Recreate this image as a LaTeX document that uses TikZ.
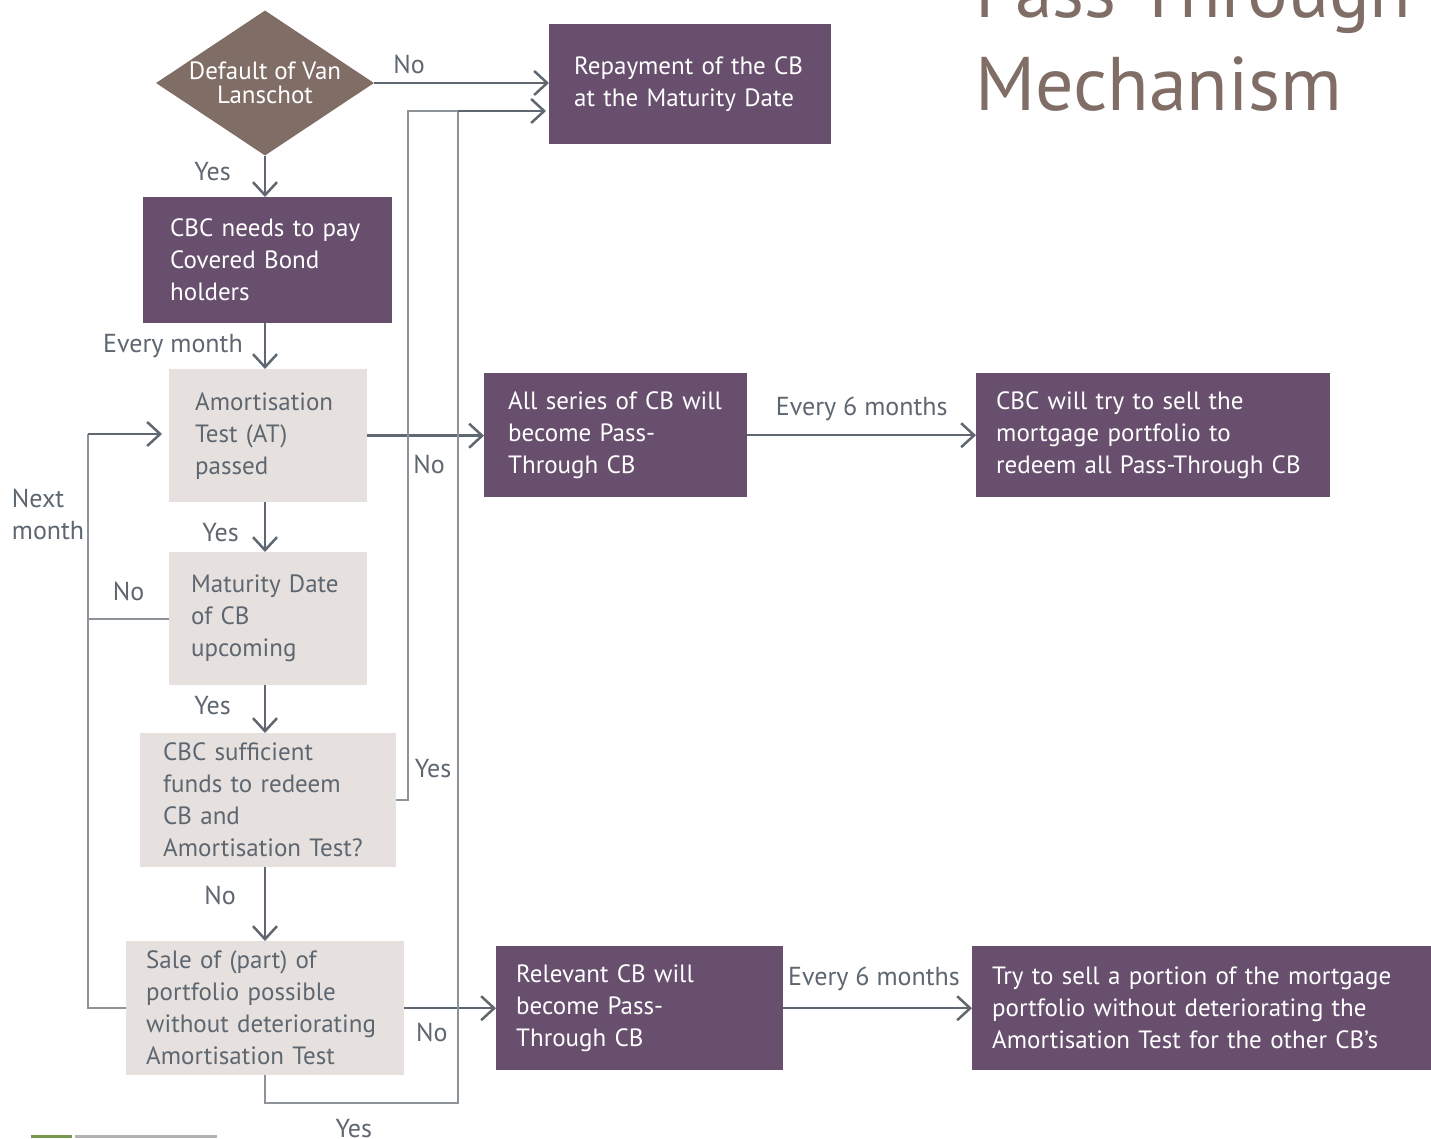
\documentclass[tikz,border=0pt]{standalone}
\usepackage{fontspec}
\setmainfont{PT Sans}
\usetikzlibrary{shapes.geometric,arrows.meta}
\hyphenpenalty=10000

\definecolor{vlpurple}{HTML}{684F6E}
\definecolor{vltaupe}{HTML}{7F6D66}
\definecolor{vlgrey}{HTML}{E6E1DE}
\definecolor{vltext}{HTML}{5E6670}
\definecolor{vlarrow}{HTML}{5F6870}
\definecolor{vlline}{HTML}{8E939A}
\definecolor{vlgreen}{HTML}{77994F}

\begin{document}
\begin{tikzpicture}[x=1pt, y=-1pt,
    every node/.style={font=\fontsize{25}{32}\selectfont},
    purplebox/.style={rectangle, fill=vlpurple, text=white, anchor=north west, align=left, inner ysep=0pt},
    greybox/.style={rectangle, fill=vlgrey, text=vltext, anchor=north west, align=left, inner ysep=0pt},
    decision/.style={diamond, fill=vltaupe, text=white, align=center, inner sep=0pt, aspect=1.5, font=\fontsize{25}{24}\selectfont},
    flow/.style={draw=vlarrow, line width=2.5pt, -{Straight Barb[length=13pt, width=24pt]}},
    link/.style={draw=vlline, line width=1.6pt},
    lbl/.style={text=vltext, inner sep=0pt, font=\fontsize{26}{32}\selectfont}]
  \useasboundingbox (0,0) rectangle (1431,1138);

  % title, cut at the top
  \node[anchor=base west, text=vltaupe, font=\fontsize{76}{90}\selectfont, inner sep=0pt] (ttl1) at (975,17) {Pass-Through};
  \node[anchor=base west, text=vltaupe, font=\fontsize{76}{90}\selectfont, inner sep=0pt] (ttl2) at (975,110) {Mechanism};

  % boxes
  \node[decision, minimum width=218pt, minimum height=145pt] (dflt) at (265,83) {Default of Van\\Lanschot};
  \node[purplebox, minimum height=120pt, inner xsep=25pt, text width=232pt] (rep) at (549,24) {Repayment of the CB\\at the Maturity Date};
  \node[purplebox, minimum height=126pt, inner xsep=27pt, text width=195pt] (pay) at (143,197) {CBC needs to pay\\Covered Bond\\holders};
  \node[greybox, minimum height=133pt, inner xsep=26pt, text width=146pt] (at) at (169,369) {Amortisation\\Test (AT)\\passed};
  \node[purplebox, minimum height=124pt, inner xsep=24pt, text width=215pt] (all) at (484,373) {All series of CB will\\become Pass-\\Through CB};
  \node[purplebox, minimum height=124pt, inner xsep=20pt, text width=314pt] (sell) at (976,373) {CBC will try to sell the\\mortgage portfolio to\\redeem all Pass-Through CB};
  \node[greybox, minimum height=133pt, inner xsep=22pt, text width=154pt] (mat) at (169,552) {Maturity Date\\of CB\\upcoming};
  \node[greybox, minimum height=134pt, inner xsep=23pt, text width=210pt] (suff) at (140,733) {CBC sufficient\\funds to redeem\\CB and\\Amortisation Test?};
  \node[greybox, minimum height=134pt, inner xsep=20pt, text width=238pt] (sale) at (126,941) {Sale of (part) of\\portfolio possible\\without deteriorating\\Amortisation Test};
  \node[purplebox, minimum height=124pt, inner xsep=20pt, text width=247pt] (rel) at (496,946) {Relevant CB will\\become Pass-\\Through CB};
  \node[purplebox, minimum height=124pt, inner xsep=20pt, text width=419pt] (try) at (972,946) {Try to sell a portion of the mortgage\\portfolio without deteriorating the\\Amortisation Test for the other CB's};

  % main column
  \draw[flow] (dflt.east) -- (dflt.east -| rep.west) node[lbl, pos=0.2, above=8pt] {No};
  \draw[flow] (dflt.south) -- (pay.north -| dflt) node[lbl, pos=0.39, left=33pt] {Yes};
  \draw[flow] (pay.south -| dflt) -- (at.north -| dflt) node[lbl, midway, left=21pt] {Every month};
  \draw[flow] (at.south -| dflt) -- (mat.north -| dflt) node[lbl, pos=0.6, left=25pt] {Yes};
  \draw[flow] (mat.south -| dflt) -- (suff.north -| dflt) node[lbl, pos=0.43, left=33pt] {Yes};
  \draw[flow] (suff.south -| dflt) -- (sale.north -| dflt) node[lbl, pos=0.38, left=28pt] {No};

  % to the right
  \draw[flow] (at.east) -- (at.east -| all.west) node[lbl, pos=0.53, below=18pt] {No};
  \draw[flow] (all.east) -- (sell.west) node[lbl, midway, above=13pt] {Every 6 months};
  \draw[flow] (sale.east) -- (sale.east -| rel.west) node[lbl, pos=0.3, below=14pt] {No};
  \draw[flow] (rel.east) -- (try.west) node[lbl, pos=0.48, above=16pt] {Every 6 months};

  % next month loop
  \coordinate (loop) at (88,434);
  \draw[link] (mat.west) -- (mat.west -| loop) node[lbl, midway, above=17pt] {No};
  \draw[link] (sale.west) -| (loop) node[lbl, pos=0.93, left=3pt, align=left] {Next\\month};
  \draw[flow, shorten >=7pt] (loop) -- (loop -| at.west);

  % back up to the repayment
  \coordinate (yesA) at (408,111);
  \coordinate (yesB) at (458,111);
  \coordinate (yesC) at (458,1103);
  \draw[link] (suff.east) -| (yesA) node[lbl, pos=0.523, right=6pt] {Yes} -- (yesB);
  \draw[link] (sale.south) |- (yesC) node[lbl, pos=0.73, below=15pt] {Yes} -- (yesB);
  \draw[flow, shorten >=3pt] (yesB) -- (yesB -| rep.west);

  % footer
  \fill[vlgreen] (31,1135) rectangle (72,1138);
  \fill[black!30] (75,1135) rectangle (217,1138);
\end{tikzpicture}
\end{document}
